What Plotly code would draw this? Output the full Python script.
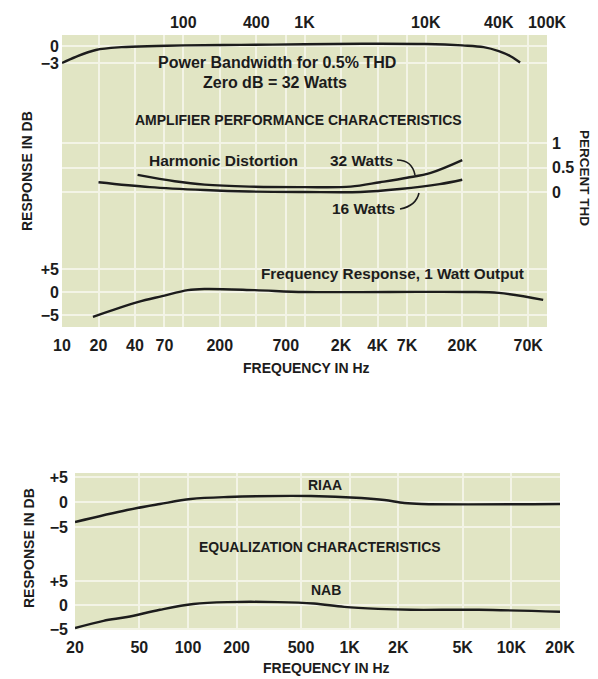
import math
import plotly.graph_objects as go

# ---------------- data ----------------
# Power bandwidth for 0.5% THD (dB, 0 dB = 32 W)
pb_freq = [10, 13, 19, 31, 60, 100, 300, 1000, 3000, 10000, 20000, 30000, 40000, 50000, 60000]
pb_db = [-3.0, -1.9, -0.7, -0.2, 0.0, 0.1, 0.2, 0.3, 0.4, 0.35, 0.1, -0.2, -0.9, -1.8, -2.9]

# Harmonic distortion (percent THD)
thd32_freq = [42, 85, 150, 350, 1000, 2400, 4200, 7000, 11000, 20000]
thd32_pct = [0.35, 0.22, 0.15, 0.11, 0.10, 0.11, 0.20, 0.29, 0.39, 0.65]
thd16_freq = [20, 53, 150, 350, 1000, 2900, 6100, 13000, 20000]
thd16_pct = [0.20, 0.10, 0.04, 0.01, 0.0, 0.0, 0.06, 0.16, 0.25]

# Frequency response, 1 watt output (dB)
fr_freq = [18, 42, 67, 109, 151, 390, 1000, 5000, 22000, 40000, 93000]
fr_db = [-5.4, -2.2, -0.9, 0.4, 0.65, 0.4, 0.0, 0.0, 0.0, -0.2, -1.7]

# Equalization characteristics (dB)
riaa_freq = [20, 42, 67, 104, 176, 576, 1180, 1640, 2180, 2780, 20000]
riaa_db = [-4.0, -1.6, -0.4, 0.6, 1.0, 1.2, 0.8, 0.4, -0.2, -0.4, -0.4]
nab_freq = [20, 30, 42, 67, 108, 176, 360, 600, 925, 1500, 2400, 6300, 20000]
nab_db = [-4.8, -3.3, -2.5, -1.0, 0.2, 0.6, 0.6, 0.3, -0.4, -0.8, -1.0, -1.0, -1.4]

# tick labels
amp_bottom_vals = [10, 20, 40, 70, 200, 700, 2000, 4000, 7000, 20000, 70000]
amp_bottom_text = ["10", "20", "40", "70", "200", "700", "2K", "4K", "7K", "20K", "70K"]
amp_top_vals = [100, 400, 1000, 10000, 40000, 100000]
amp_top_text = ["100", "400", "1K", "10K", "40K", "100K"]
eq_vals = [20, 50, 100, 200, 500, 1000, 2000, 5000, 10000, 20000]
eq_text = ["20", "50", "100", "200", "500", "1K", "2K", "5K", "10K", "20K"]
pb_ticks = [0, -3]
pb_tick_text = ["0", "\u22123"]
thd_ticks = [0, 0.5, 1]
thd_tick_text = ["0", "0.5", "1"]
db_ticks = [-5, 0, 5]
db_tick_text = ["\u22125", "0", "+5"]

# ---------------- style ----------------
W, H = 598, 679
FONT = "Liberation Sans, Arial, sans-serif"
INK = "#1c1c1c"
BG = "#e1e5c4"
GRID = "#f3f4e6"
LW = 2.4


def px(x):
    return x / W


def py(y):
    return 1 - y / H


def b(t):
    return "<b>%s</b>" % t


fig = go.Figure()


def curve(xs, ys, xa, ya):
    fig.add_trace(go.Scatter(x=xs, y=ys, xaxis=xa, yaxis=ya, mode="lines",
                             line=dict(color=INK, width=LW, shape="spline", smoothing=1.0),
                             hoverinfo="skip", showlegend=False))


curve(pb_freq, pb_db, "x", "y")
curve(thd32_freq, thd32_pct, "x", "y2")
curve(thd16_freq, thd16_pct, "x", "y2")
curve(fr_freq, fr_db, "x", "y3")
curve(riaa_freq, riaa_db, "x3", "y4")
curve(nab_freq, nab_db, "x3", "y5")
# empty trace so that the top frequency scale (x2) is drawn
fig.add_trace(go.Scatter(x=[], y=[], xaxis="x2", yaxis="y", mode="lines",
                         hoverinfo="skip", showlegend=False))

TICKF = dict(family=FONT, size=16, color=INK)
common_x = dict(type="log", showgrid=True, gridcolor=GRID, gridwidth=2, zeroline=False,
                showline=False, ticks="", tickfont=TICKF, fixedrange=True, automargin=False)
common_y = dict(showgrid=True, gridcolor=GRID, gridwidth=2, zeroline=False, showline=False,
                ticks="", tickfont=TICKF, fixedrange=True, automargin=False)

# top panel: 62..547 px wide, 35..327 px tall
top_dom = [py(327), py(35)]
fig.update_layout(
    xaxis=dict(domain=[px(62), px(547)], range=[1, 5], anchor="y",
               tickvals=amp_bottom_vals, ticktext=[b(t) for t in amp_bottom_text],
               ticklabelstandoff=7, **common_x),
    xaxis2=dict(overlaying="x", side="top", range=[1, 5], anchor="y",
                tickvals=amp_top_vals, ticktext=[b(t) for t in amp_top_text],
                ticklabelstandoff=3, **common_x),
    yaxis=dict(domain=top_dom, range=[-49.6, 1.94], anchor="x", side="left",
               tickvals=pb_ticks, ticktext=[b(t) for t in pb_tick_text],
               ticklabelstandoff=2, **common_y),
    yaxis2=dict(overlaying="y", side="right", anchor="x", range=[-2.755, 3.204],
                tickvals=thd_ticks, ticktext=[b(t) for t in thd_tick_text],
                ticklabelstandoff=4, **common_y),
    yaxis3=dict(overlaying="y", side="left", anchor="x", range=[-7.61, 55.87],
                tickvals=db_ticks, ticktext=[b(t) for t in db_tick_text],
                ticklabelstandoff=2, **common_y),
    # bottom panel: 75..560 px wide, 473..630 px tall
    xaxis3=dict(domain=[px(75), px(560)], range=[math.log10(20), math.log10(20000)], anchor="y4",
                tickvals=eq_vals, ticktext=[b(t) for t in eq_text],
                ticklabelstandoff=6, **common_x),
    yaxis4=dict(domain=[py(630), py(473)], range=[-25.6, 5.8], anchor="x3", side="left",
                tickvals=db_ticks, ticktext=[b(t) for t in db_tick_text],
                ticklabelstandoff=6, **common_y),
    yaxis5=dict(overlaying="y4", side="left", anchor="x3", range=[-5.21, 27.5],
                tickvals=db_ticks, ticktext=[b(t) for t in db_tick_text],
                ticklabelstandoff=6, **common_y),
)


def label(text, x, y, size, angle=0):
    fig.add_annotation(text=b(text), x=px(x), y=py(y),
                       xref="paper", yref="paper", showarrow=False, textangle=angle,
                       xanchor="center", yanchor="middle",
                       font=dict(family=FONT, size=size, color=INK))


label("Power Bandwidth for 0.5% THD", 277, 62, 16)
label("Zero dB = 32 Watts", 275, 82, 16)
label("AMPLIFIER PERFORMANCE CHARACTERISTICS", 298, 120, 14)
label("Harmonic Distortion", 224, 160, 15.5)
label("32 Watts", 361, 160, 15.5)
label("16 Watts", 363, 208, 15.5)
label("Frequency Response, 1 Watt Output", 392, 273, 15.3)
label("FREQUENCY IN Hz", 306, 368, 14)
label("RESPONSE IN DB", 27, 171, 14, angle=-90)
label("PERCENT THD", 584, 178, 13.5, angle=90)
label("RIAA", 325, 485, 14)
label("EQUALIZATION CHARACTERISTICS", 320, 547, 14)
label("NAB", 326, 590, 14)
label("FREQUENCY IN Hz", 326, 668, 14)
label("RESPONSE IN DB", 29, 548, 14, angle=-90)


def leader(x0, y0, cx, cy, x1, y1):
    # curved leader line from a label to its curve (quadratic path, paper coords)
    fig.add_shape(type="path", xref="paper", yref="paper",
                  path="M %.5f %.5f Q %.5f %.5f %.5f %.5f" % (px(x0), py(y0), px(cx), py(cy), px(x1), py(y1)),
                  line=dict(color=INK, width=1.6))


leader(397, 160, 412, 160, 415, 175)
leader(400, 209, 416, 206, 419, 193)

fig.update_layout(template="none", width=W, height=H, margin=dict(l=0, r=0, t=0, b=0, pad=0),
                  paper_bgcolor="white", plot_bgcolor=BG,
                  font=dict(family=FONT, color=INK), showlegend=False)

fig.write_html("out.html", config={"displayModeBar": False, "staticPlot": True},
               post_script="document.body.style.margin='0px';")
